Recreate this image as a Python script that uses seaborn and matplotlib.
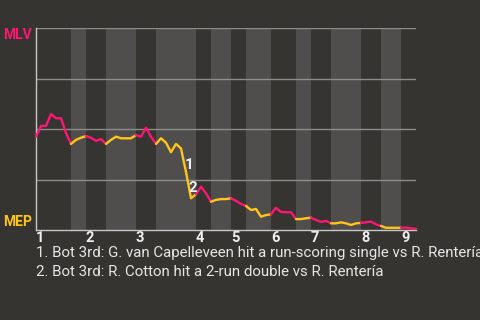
import numpy as np
import pandas as pd
import matplotlib
matplotlib.use("Agg")
import matplotlib.pyplot as plt
import seaborn as sns

# ---------------- data ----------------
away_team = "MLV"
home_team = "MEP"
inning_labels = ["1", "2", "3", "4", "5", "6", "7", "8", "9"]
# plate appearances per half inning (top 1, bot 1, top 2, ... top 9)
half_inning_pas = [7, 3, 4, 6, 4, 8, 3, 4, 3, 5, 5, 3, 4, 6, 4, 4, 3]
# MLV win probability after each plate appearance (0 = MEP wins, 1 = MLV wins)
win_prob = [
    0.462, 0.515, 0.515, 0.574, 0.553, 0.553, 0.480, 0.426,
    0.446, 0.457, 0.465,
    0.457, 0.441, 0.450, 0.426,
    0.446, 0.462, 0.454, 0.454, 0.454, 0.470,
    0.462, 0.506, 0.462, 0.426,
    0.454, 0.432, 0.385, 0.426, 0.404, 0.287, 0.157, 0.177,
    0.214, 0.182, 0.140,
    0.149, 0.153, 0.153, 0.157,
    0.144, 0.129, 0.119,
    0.099, 0.104, 0.066, 0.074, 0.078,
    0.110, 0.089, 0.088, 0.088, 0.054,
    0.054, 0.058, 0.061,
    0.050, 0.040, 0.045, 0.033,
    0.033, 0.038, 0.033, 0.025, 0.033, 0.035,
    0.038, 0.042, 0.028, 0.020,
    0.011, 0.011, 0.011, 0.011,
    0.012, 0.008, 0.005,
]
event_index = [30, 31]
event_labels = ["1", "2"]
event_notes = [
    "1. Bot 3rd: G. van Capelleveen hit a run-scoring single vs R. Rentería",
    "2. Bot 3rd: R. Cotton hit a 2-run double vs R. Rentería",
]

# ---------------- style ----------------
BG = "#363430"
BAND = "#4f4e4c"
PINK = "#ff1573"
YELLOW = "#ffc51a"
GRID = "#8c8c8a"
AXIS = "#c8c8c6"
TEXT = "#e6e6e4"

sns.set_style("dark")
plt.rcParams["font.family"] = ["Roboto", "DejaVu Sans"]

fig = plt.figure(figsize=(4.8, 3.2), dpi=100, facecolor=BG)
ax = fig.add_axes([36 / 480, 1 - 230 / 320, 380 / 480, 202 / 320])
ax.set_facecolor(BG)

bounds = np.concatenate([[0], np.cumsum(half_inning_pas)])
n_total = bounds[-1]

# shaded bottom halves
for k in range(len(half_inning_pas)):
    if k % 2 == 1:
        ax.axvspan(bounds[k], bounds[k + 1], color=BAND, lw=0, zorder=0)

# grid lines
for gy in [0.25, 0.5, 0.75, 1.0]:
    ax.axhline(gy, color=GRID, lw=1.0, zorder=1)

df = pd.DataFrame({"pa": np.arange(len(win_prob)), "wp": win_prob})
for k in range(len(half_inning_pas)):
    seg = df.iloc[bounds[k]:bounds[k + 1] + 1]
    sns.lineplot(data=seg, x="pa", y="wp", ax=ax,
                 color=PINK if k % 2 == 0 else YELLOW,
                 lw=1.7, zorder=3, clip_on=False)

# event markers
offsets = [(3, 7), (2, 10)]
for idx, lab, off in zip(event_index, event_labels, offsets):
    ax.annotate(lab, (idx, win_prob[idx]), xytext=off, textcoords="offset pixels",
                ha="center", va="center", color="#f0f0f0", fontsize=11,
                fontweight="bold", zorder=5)

ax.set_xlim(0, n_total)
ax.set_ylim(0, 1)
ax.set_xlabel("")
ax.set_ylabel("")
ax.grid(False)

inning_starts = bounds[0::2][:len(inning_labels)]
ax.set_xticks(inning_starts)
ax.set_xticklabels(inning_labels, fontweight="bold", fontsize=10.5, color="#f0f0f0", ha="left")
ax.tick_params(axis="x", length=0, pad=1)
ax.set_yticks([])

for s in ["top", "right"]:
    ax.spines[s].set_visible(False)
for s in ["left", "bottom"]:
    ax.spines[s].set_visible(True)
    ax.spines[s].set_color(AXIS)
    ax.spines[s].set_linewidth(1.0)

fig.text(32 / 480, 1 - 28 / 320, away_team, color=PINK, fontsize=10,
         fontweight="bold", ha="right", va="top")
fig.text(32 / 480, 1 - 226 / 320, home_team, color=YELLOW, fontsize=10,
         fontweight="bold", ha="right", va="baseline")

for j, note in enumerate(event_notes):
    fig.text(36 / 480, 1 - (257 + 18.5 * j) / 320, note, color=TEXT,
             fontsize=10.8, ha="left", va="baseline")

fig.savefig("out.png", dpi=100, facecolor=BG)
